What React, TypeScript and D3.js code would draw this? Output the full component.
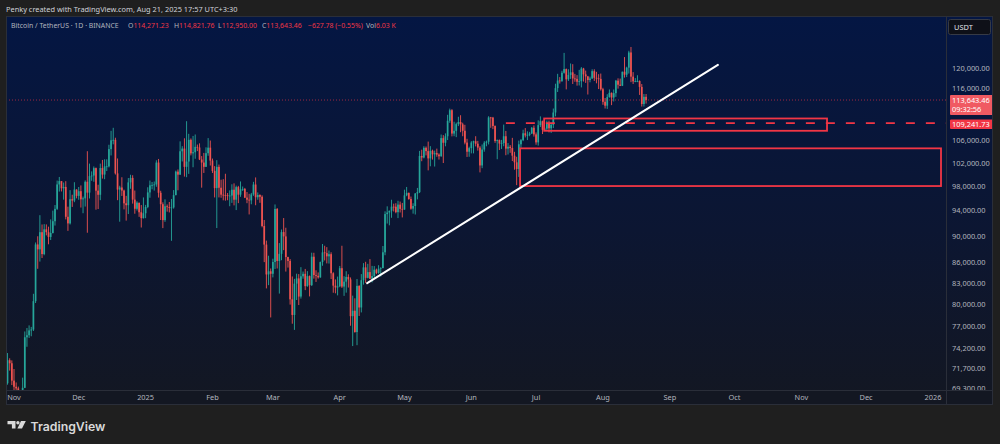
import * as d3 from 'd3';
import { useEffect, useRef } from 'react';

// BTCUSDT daily candles, Binance, from 2024-10-29 to 2025-08-21
const startDay = '2024-10-29';
const firstOpen = 69907;

const closes = [
    72720, 72340, 70215,
    // Nov
    69482, 69289, 68741, 67811, 69359, 75640, 75905, 76538, 76649, 80475, 88701, 87955, 90585, 87250, 91032,
    90586, 89855, 90465, 92310, 94286, 98317, 98892, 97673, 97900, 93010, 91965, 95863, 95643, 97460, 96407,
    // Dec
    97185, 95840, 96000, 98768, 96945, 99740, 99831, 101109, 97276, 96593, 101125, 100000, 101417, 101420, 104463,
    106058, 106133, 100204, 97461, 97805, 97291, 95186, 94881, 98663, 99429, 95792, 94299, 95300, 93738, 92792, 93576,
    // Jan
    94591, 96984, 98174, 98236, 98314, 102078, 96922, 95043, 92484, 94701, 94566, 94488, 94516, 96534, 100504,
    99987, 104077, 104556, 101331, 102260, 106143, 103706, 103910, 104870, 104746, 102620, 102082, 101335, 103733, 104722, 102429,
    // Feb
    100635, 97700, 101328, 97763, 96613, 96554, 96506, 96444, 96462, 97430, 95778, 97869, 96608, 97500,
    97569, 96118, 95780, 95671, 96644, 98305, 96181, 96551, 96258, 91552, 88680, 84250, 84708, 84349,
    // Mar
    86064, 94270, 86220, 87281, 90606, 89931, 86801, 86222, 80734, 78595, 82932, 83680, 81115, 83983, 84338,
    82574, 84010, 82718, 86854, 84168, 84043, 83832, 86054, 87499, 87392, 86909, 87232, 84424, 82649, 82389, 82550,
    // Apr
    85158, 82516, 83213, 83889, 83537, 78430, 79163, 76322, 82615, 79607, 83423, 85276, 83760, 84591, 83643,
    84030, 84947, 84474, 85077, 85179, 87516, 93442, 93691, 93980, 94638, 94631, 93755, 94978, 94285, 94172,
    // May
    96490, 96910, 95892, 94315, 94748, 96802, 97033, 103241, 102971, 104696, 104106, 102812, 104169, 103539, 103744,
    103489, 103191, 106454, 105606, 106791, 109678, 111673, 107287, 107791, 109035, 109440, 108994, 107802, 105641, 103998, 104638,
    // Jun
    105652, 105882, 105432, 104731, 101575, 104390, 105615, 105793, 110294, 110257, 108686, 105929, 106090, 105472, 105552,
    106794, 104551, 104886, 104657, 103297, 102120, 100963, 105333, 106084, 107340, 106947, 107047, 107297, 108356, 107136,
    // Jul
    105681, 108849, 109584, 107984, 108198, 109203, 108262, 108922, 111233, 115987, 117516, 117435, 119086, 119841, 117758,
    118630, 119177, 117925, 117840, 117265, 117380, 119954, 118755, 118340, 117614, 117919, 119415, 118062, 117950, 117840, 115764,
    // Aug
    113297, 112546, 114208, 115055, 114129, 114992, 117472, 116674, 116462, 119294, 118686, 120134, 123306, 118295,
    117342, 117380, 117405, 116227, 112872, 114271, 113643.46,
];

const highs = [
    73620, 72961, 72700,
    71632, 70000, 69500, 69000, 70577, 76400, 76849, 77199, 76999, 81500, 89000, 89956, 93265, 91790, 91850,
    91800, 91449, 92594, 94002, 94902, 98974, 99588, 98767, 98647, 98871, 94640, 97361, 96600, 98693, 97499,
    97888, 98150, 96297, 99000, 104088, 101898, 100548, 101399, 101215, 98270, 101895, 102540, 102650, 102650, 105250,
    107793, 108353, 106524, 102800, 98100, 99540, 97448, 96416, 99404, 99963, 99884, 97294, 95525, 95200, 94903, 96150,
    94929, 97839, 98976, 98734, 98813, 102482, 102712, 97258, 95349, 95836, 94999, 95400, 95900, 97371, 100681,
    100873, 105865, 104988, 106422, 109588, 107240, 106394, 106850, 107120, 105286, 105500, 103222, 103784, 104782, 106457, 106012,
    102783, 101456, 102500, 101730, 99120, 99211, 100137, 96880, 97323, 98345, 98500, 98119, 98076, 98826,
    97972, 97732, 97045, 96753, 96899, 98756, 99508, 96980, 96670, 96500, 92500, 89286, 87000, 85120,
    86558, 95000, 94416, 88911, 91000, 92810, 91283, 86849, 86500, 83955, 83617, 84358, 84300, 85309, 84672,
    85051, 84725, 84100, 87453, 87443, 84850, 84540, 86129, 88765, 88500, 88292, 87786, 87515, 84567, 83534, 83943,
    85487, 88500, 83998, 84720, 84266, 83817, 81243, 80867, 83588, 82700, 84300, 85905, 86100, 85799, 86496,
    85500, 85470, 85098, 85597, 85306, 88460, 93888, 94696, 94000, 95768, 95127, 95199, 95600, 95469, 95250,
    97437, 97895, 96950, 96300, 95199, 96888, 97732, 104145, 104361, 104978, 104937, 105819, 104992, 104361, 104193,
    104550, 103709, 107108, 107000, 107320, 110797, 111980, 111880, 109488, 109314, 110422, 110718, 109300, 108911, 106325, 104900,
    105900, 105982, 106800, 105950, 105000, 105300, 105900, 106000, 110530, 110400, 110400, 108800, 106200, 106200, 106128,
    108952, 107771, 105550, 105200, 106500, 103983, 103100, 106000, 106300, 108000, 108300, 107700, 107600, 108500, 108789,
    107500, 109750, 110500, 109700, 108400, 109700, 109700, 109200, 111999, 116868, 118869, 118200, 119488, 123218, 119950,
    119800, 120998, 120850, 118856, 118600, 119676, 120247, 120090, 119535, 118444, 118300, 119800, 119800, 119273, 118792, 118922,
    116052, 114036, 114774, 115720, 115128, 115716, 117630, 117950, 117900, 119311, 122335, 120320, 123667, 124474,
    119216, 117999, 118575, 117543, 116802, 114820, 114821.76,
];

const lows = [
    69730, 71436, 69685,
    68820, 68600, 67458, 66835, 67458, 69322, 74416, 75555, 75773, 76460, 80216, 85072, 86127, 86668, 87073,
    90094, 88722, 89376, 90389, 91619, 94113, 97122, 97142, 95788, 92600, 90791, 91788, 94600, 95368, 96000,
    95770, 94500, 93578, 94660, 90500, 95981, 98938, 98771, 94150, 94256, 95700, 99311, 99206, 100609, 101234,
    103333, 105321, 100000, 95700, 92232, 96398, 94200, 92403, 93448, 97595, 95137, 93500, 94014, 93000, 91317, 92740,
    92788, 94392, 96100, 97500, 97291, 97926, 96132, 92500, 91220, 92206, 93831, 93711, 89256, 94322, 96500,
    97335, 99950, 102277, 99651, 99550, 100119, 103339, 101262, 102750, 104106, 102520, 97777, 100279, 101328, 103278, 101560,
    100279, 96150, 91231, 96150, 96100, 95676, 95620, 95688, 94713, 95256, 94850, 94088, 95217, 96252,
    97223, 96046, 95205, 93388, 95029, 96415, 94871, 95770, 95270, 91349, 86050, 82256, 82716, 78258,
    83824, 85050, 85117, 81529, 86334, 87836, 84667, 85247, 80000, 77420, 76606, 80635, 79939, 80830, 83639,
    82017, 82492, 81134, 82600, 83647, 83175, 83647, 83770, 85519, 86300, 85860, 85837, 83585, 81644, 81565, 81278,
    82429, 82320, 81211, 81659, 82379, 77153, 74508, 76239, 74620, 78456, 78935, 82792, 83034, 83678, 83600,
    83111, 83736, 84303, 84353, 83949, 85143, 87076, 91935, 91660, 92855, 93861, 93576, 92800, 93700, 92910,
    94133, 96350, 95770, 94153, 93514, 93377, 95833, 96876, 102315, 102818, 103346, 100719, 101429, 102602, 101383,
    103100, 102612, 103105, 102000, 104971, 106100, 109285, 106769, 106800, 106631, 108672, 107534, 106800, 105321, 103068, 103100,
    103700, 103700, 104950, 104200, 100372, 101100, 104000, 104968, 105300, 108350, 108100, 105600, 102664, 104300, 104494,
    104979, 103371, 103500, 103800, 102345, 100837, 98200, 99600, 104700, 105900, 106577, 106100, 106800, 107200, 106733,
    105250, 105100, 108500, 107200, 107800, 107800, 107500, 107400, 108300, 110500, 115222, 116900, 117224, 118905, 115736,
    117422, 117840, 116812, 117259, 116477, 116515, 116128, 117301, 117031, 114723, 117150, 117840, 117427, 116950, 115800, 115500,
    112722, 112000, 111920, 114108, 112650, 113355, 114259, 115885, 116400, 116400, 118100, 118200, 118920, 117180,
    116803, 117172, 117172, 114640, 112380, 112380, 112950,
];

const priceTicks = [120000, 116000, 106000, 102000, 98000, 94000, 90000, 86000, 83000, 80000, 77000, 74200, 71700, 69300];

const timeTicks = [
    { date: '2024-11-01', label: 'Nov' },
    { date: '2024-12-01', label: 'Dec' },
    { date: '2025-01-01', label: '2025' },
    { date: '2025-02-01', label: 'Feb' },
    { date: '2025-03-01', label: 'Mar' },
    { date: '2025-04-01', label: 'Apr' },
    { date: '2025-05-01', label: 'May' },
    { date: '2025-06-01', label: 'Jun' },
    { date: '2025-07-01', label: 'Jul' },
    { date: '2025-08-01', label: 'Aug' },
    { date: '2025-09-01', label: 'Sep' },
    { date: '2025-10-01', label: 'Oct' },
    { date: '2025-11-01', label: 'Nov' },
    { date: '2025-12-01', label: 'Dec' },
    { date: '2026-01-01', label: '2026' },
];

// drawings on the chart
const trendLine = [
    { date: '2025-04-13T17:00', price: 83000 },
    { date: '2025-09-23T07:00', price: 120700 },
];
const zones = [
    { from: '2025-07-04T18:00', to: '2025-11-12T21:00', top: 110100, bottom: 107800 },
    { from: '2025-06-23T14:00', to: '2026-01-04T17:00', top: 104600, bottom: 98050 },
];
const levelLine = { from: '2025-06-17T00:00', price: 109241.73 };
const lastPrice = 113643.46;
const countdown = '09:32:56';

const headerParts = [
    { x: 11, text: 'Bitcoin / TetherUS · 1D · BINANCE', value: '' },
    { x: 128, text: 'O', value: '114,271.23' },
    { x: 174, text: 'H', value: '114,821.76' },
    { x: 218, text: 'L', value: '112,950.00' },
    { x: 262, text: 'C', value: '113,643.46' },
    { x: 308, text: '', value: '−627.78 (−0.55%)' },
    { x: 366, text: 'Vol', value: '6.03 K' },
];

const utc = (s: string) => new Date(s.length === 10 ? s + 'T00:00Z' : s + 'Z');

const UP = '#26a69a';
const DOWN = '#ef5350';
const RED = '#f23645';
const FONT = '"Noto Sans", Roboto, sans-serif';

export default function App() {
    const svgRef = useRef<SVGSVGElement>(null);

    useEffect(() => {
        if (!svgRef.current) return;
        const svg = d3.select(svgRef.current);
        svg.selectAll('*').remove();

        const paneL = 6,
            paneR = 993,
            paneT = 16,
            paneB = 405,
            axisX = 946,
            timeT = 390;

        const x = d3.scaleUtc().domain([utc('2024-11-01'), utc('2026-01-01')]).range([14, 933]);
        const y = d3.scaleLog().domain([69300, 120000]).range([388.3, 68.3]);

        const defs = svg.append('defs');
        const grad = defs.append('linearGradient').attr('id', 'paneBg').attr('x1', 0).attr('y1', 0).attr('x2', 0).attr('y2', 1);
        grad.append('stop').attr('offset', '0%').attr('stop-color', '#041643');
        grad.append('stop').attr('offset', '55%').attr('stop-color', '#0c1632');
        grad.append('stop').attr('offset', '100%').attr('stop-color', '#131722');
        defs.append('clipPath').attr('id', 'plotClip').append('rect').attr('x', paneL).attr('y', paneT).attr('width', axisX - paneL).attr('height', timeT - paneT);
        defs.append('clipPath').attr('id', 'axisClip').append('rect').attr('x', axisX).attr('y', paneT).attr('width', paneR - axisX).attr('height', timeT - paneT);

        // outer frame + pane
        svg.append('rect').attr('width', 1000).attr('height', 444).attr('fill', '#1f1f1f');
        svg.append('rect').attr('x', paneL).attr('y', paneT).attr('width', paneR - paneL).attr('height', paneB - paneT).attr('fill', 'url(#paneBg)');

        // credit line
        svg.append('text')
            .attr('x', 6)
            .attr('y', 11.5)
            .attr('font-family', FONT)
            .attr('font-size', 7.4)
            .attr('fill', '#cfd2d9')
            .text('Penky created with TradingView.com, Aug 21, 2025 17:57 UTC+3:30');

        const plot = svg.append('g').attr('clip-path', 'url(#plotClip)');

        // candles
        const start = utc(startDay);
        const candles = closes.map((c, i) => ({
            date: d3.utcDay.offset(start, i),
            open: i === 0 ? firstOpen : closes[i - 1],
            high: highs[i],
            low: lows[i],
            close: c,
        }));
        const bw = 1.7;
        const cg = plot.append('g');
        candles.forEach((d) => {
            const col = d.close >= d.open ? UP : DOWN;
            const cx = x(d.date);
            cg.append('line')
                .attr('x1', cx)
                .attr('x2', cx)
                .attr('y1', y(d.high))
                .attr('y2', y(d.low))
                .attr('stroke', col)
                .attr('stroke-width', 0.9);
            const y0 = y(Math.max(d.open, d.close));
            const y1 = y(Math.min(d.open, d.close));
            cg.append('rect')
                .attr('x', cx - bw / 2)
                .attr('y', y0)
                .attr('width', bw)
                .attr('height', Math.max(y1 - y0, 0.8))
                .attr('fill', col);
        });

        // last price dotted line
        plot.append('line')
            .attr('x1', paneL)
            .attr('x2', axisX)
            .attr('y1', y(lastPrice))
            .attr('y2', y(lastPrice))
            .attr('stroke', RED)
            .attr('stroke-width', 0.8)
            .attr('stroke-dasharray', '1,2')
            .attr('opacity', 0.8);

        // zones
        zones.forEach((z) => {
            const x0 = x(utc(z.from));
            const x1 = x(utc(z.to));
            plot.append('rect')
                .attr('x', x0)
                .attr('y', y(z.top))
                .attr('width', x1 - x0)
                .attr('height', y(z.bottom) - y(z.top))
                .attr('fill', 'none')
                .attr('stroke', RED)
                .attr('stroke-width', 1.8);
        });

        // dashed level
        plot.append('line')
            .attr('x1', x(utc(levelLine.from)))
            .attr('x2', axisX)
            .attr('y1', y(levelLine.price))
            .attr('y2', y(levelLine.price))
            .attr('stroke', RED)
            .attr('stroke-width', 1.8)
            .attr('stroke-dasharray', '9,11');

        // trend line
        plot.append('line')
            .attr('x1', x(utc(trendLine[0].date)))
            .attr('y1', y(trendLine[0].price))
            .attr('x2', x(utc(trendLine[1].date)))
            .attr('y2', y(trendLine[1].price))
            .attr('stroke', '#ffffff')
            .attr('stroke-width', 2)
            .attr('stroke-linecap', 'round');

        // header legend
        headerParts.forEach((p) => {
            const t = svg.append('text').attr('x', p.x).attr('y', 27.5).attr('font-family', FONT).attr('font-size', 6.9);
            t.append('tspan').attr('fill', '#b2b5be').text(p.text);
            if (p.value) t.append('tspan').attr('fill', RED).text(p.value);
        });

        // price axis
        svg.append('line').attr('x1', axisX + 0.5).attr('x2', axisX + 0.5).attr('y1', paneT).attr('y2', paneB).attr('stroke', '#2a2e39');
        const ax = svg.append('g').attr('clip-path', 'url(#axisClip)');
        priceTicks.forEach((v) => {
            ax.append('text')
                .attr('x', 952)
                .attr('y', y(v))
                .attr('dy', '0.35em')
                .attr('font-family', FONT)
                .attr('font-size', 7.4)
                .attr('fill', '#b2b5be')
                .text(d3.format(',.2f')(v));
        });

        // USDT button
        svg.append('rect').attr('x', 948.5).attr('y', 19.5).attr('width', 42).attr('height', 15).attr('rx', 2).attr('fill', '#0e1018').attr('stroke', '#363a45');
        svg.append('text')
            .attr('x', 954)
            .attr('y', 30)
            .attr('font-family', FONT)
            .attr('font-size', 7.4)
            .attr('fill', '#e0e3eb')
            .text('USDT');

        // last price label
        const ly = y(lastPrice);
        svg.append('rect').attr('x', 950).attr('y', ly - 5).attr('width', 43).attr('height', 20).attr('rx', 1).attr('fill', '#f05a62');
        svg.append('text').attr('x', 952).attr('y', ly + 2.5).attr('font-family', FONT).attr('font-size', 7.4).attr('fill', '#ffffff').text(d3.format(',.2f')(lastPrice));
        svg.append('text').attr('x', 952).attr('y', ly + 11.5).attr('font-family', FONT).attr('font-size', 7.4).attr('fill', '#ffffff').text(countdown);

        // level label
        const vy = y(levelLine.price);
        svg.append('rect').attr('x', 950).attr('y', vy - 3.6).attr('width', 43).attr('height', 9.6).attr('rx', 1).attr('fill', RED);
        svg.append('text').attr('x', 952).attr('y', vy + 3.8).attr('font-family', FONT).attr('font-size', 7.4).attr('fill', '#ffffff').text(d3.format(',.2f')(levelLine.price));

        // time axis
        svg.append('rect').attr('x', paneL).attr('y', timeT).attr('width', paneR - paneL).attr('height', paneB - timeT).attr('fill', '#131722');
        svg.append('line').attr('x1', paneL).attr('x2', paneR).attr('y1', timeT + 0.5).attr('y2', timeT + 0.5).attr('stroke', '#2a2e39');
        svg.append('line').attr('x1', axisX + 0.5).attr('x2', axisX + 0.5).attr('y1', timeT).attr('y2', paneB).attr('stroke', '#2a2e39');
        timeTicks.forEach((t) => {
            svg.append('text')
                .attr('x', x(utc(t.date)))
                .attr('y', 400)
                .attr('text-anchor', 'middle')
                .attr('font-family', FONT)
                .attr('font-size', 7.4)
                .attr('fill', '#b2b5be')
                .text(t.label);
        });

        // pane border
        svg.append('rect')
            .attr('x', paneL + 0.5)
            .attr('y', paneT + 0.5)
            .attr('width', paneR - paneL - 1)
            .attr('height', paneB - paneT - 1)
            .attr('fill', 'none')
            .attr('stroke', '#2a2e39');

        // TradingView logo
        const logo = svg.append('g').attr('fill', '#d9d9d9');
        logo.append('path').attr('d', 'M7.5,421 h8 v7.5 h-3.6 v-4.2 h-4.4 z');
        logo.append('circle').attr('cx', 17.9).attr('cy', 422.7).attr('r', 1.7);
        logo.append('path').attr('d', 'M21,421 h4.8 l-3.8,7.5 h-4.6 z');
        svg.append('text')
            .attr('x', 30.5)
            .attr('y', 430.6)
            .attr('font-family', 'Inter, "Noto Sans", sans-serif')
            .attr('font-weight', 600)
            .attr('font-size', 12.3)
            .attr('fill', '#d9d9d9')
            .text('TradingView');
    }, []);

    return <svg ref={svgRef} width={1000} height={444} style={{ position: 'absolute', left: 0, top: 0, display: 'block' }} />;
}
